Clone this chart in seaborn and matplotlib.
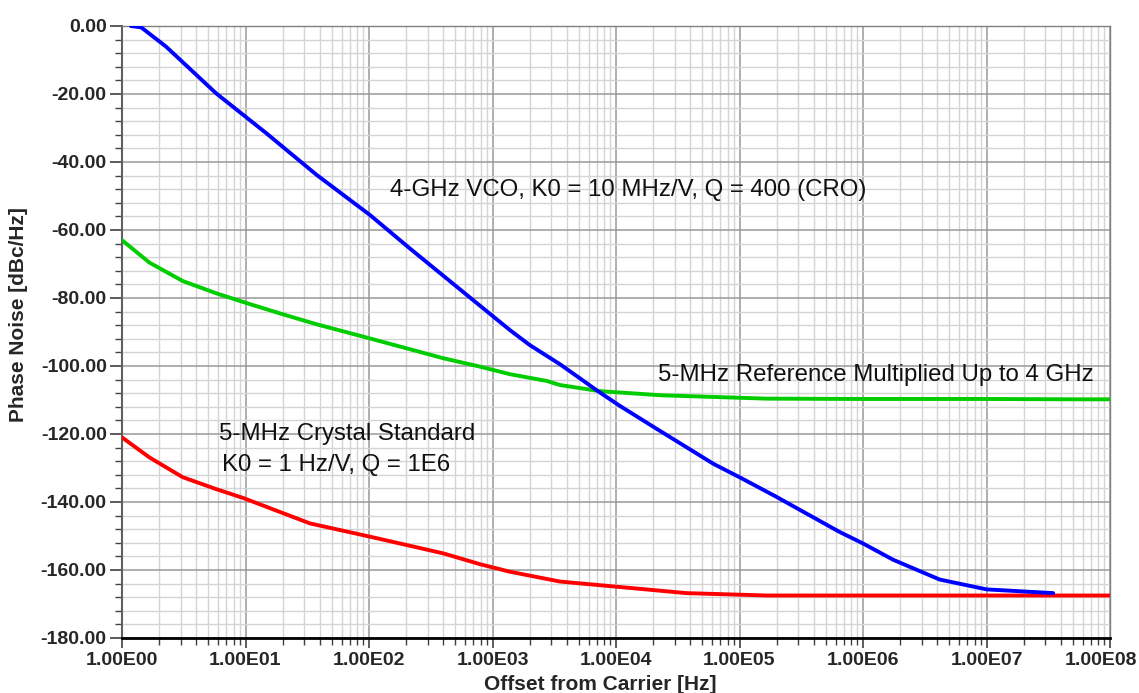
import numpy as np
import pandas as pd
import matplotlib
matplotlib.use("Agg")
import matplotlib.pyplot as plt
import matplotlib.transforms as mtransforms
from matplotlib.ticker import FixedLocator, FuncFormatter, MultipleLocator, LogLocator, NullFormatter
import seaborn as sns

# ---- data ----
vco_freq = [1.18, 1.43, 2.28, 5.78, 14.7, 37.4, 101.9, 213.8, 794, 1380, 1995, 3524, 7413,
            10715, 21380, 61660, 100000, 199500, 645700, 1000000, 1758000, 4169000,
            10000000, 34670000]
vco_pn = [0.0, -0.4, -6.1, -19.8, -31.5, -43.7, -55.6, -65.4, -82.3, -89.4, -93.8, -99.5, -107.8,
          -111.7, -118.5, -128.8, -132.7, -138.5, -148.8, -152.2, -157.0, -162.8,
          -165.7, -166.8]

ref_freq = [1.0, 1.67, 3.10, 5.78, 10.0, 20.1, 37.4, 101.9, 398, 794, 1380, 2754, 3524, 7413,
            22910, 166000, 1000000, 10000000, 57540000, 100000000]
ref_pn = [-63.0, -69.6, -75.0, -78.6, -81.4, -84.8, -87.7, -91.9, -97.7, -100.2, -102.4, -104.4,
          -105.6, -107.4, -108.6, -109.6, -109.7, -109.7, -109.8, -109.8]

xtal_freq = [1.0, 1.67, 3.10, 5.78, 9.55, 33.3, 101.9, 398, 794, 1380, 3524, 10000, 37150,
             166000, 1000000, 10000000, 100000000]
xtal_pn = [-121.0, -126.9, -132.7, -136.2, -138.8, -146.3, -150.2, -155.1, -158.3, -160.5,
           -163.4, -164.9, -166.8, -167.5, -167.5, -167.5, -167.5]

x_ticks = [1e0, 1e1, 1e2, 1e3, 1e4, 1e5, 1e6, 1e7, 1e8]
y_ticks = [0, -20, -40, -60, -80, -100, -120, -140, -160, -180]

label_vco = "4-GHz VCO, K0 = 10 MHz/V, Q = 400 (CRO)"
label_ref = "5-MHz Reference Multiplied Up to 4 GHz"
label_xtal1 = "5-MHz Crystal Standard"
label_xtal2 = "K0 = 1 Hz/V, Q = 1E6"

sns.set_theme(style="white")
plt.rcParams['font.family'] = ['Liberation Sans', 'DejaVu Sans']

fig = plt.figure(figsize=(11.39, 6.93), dpi=100)
ax = fig.add_axes([122/1139, 1 - 638/693, (1110 - 122)/1139, (638 - 26)/693])

df_vco = pd.DataFrame({"f": vco_freq, "pn": vco_pn})
df_ref = pd.DataFrame({"f": ref_freq, "pn": ref_pn})
df_xtal = pd.DataFrame({"f": xtal_freq, "pn": xtal_pn})

ax.set_xscale("log")
line_kw = dict(lw=2.8, sort=False, solid_joinstyle="round", solid_capstyle="round")
sns.lineplot(data=df_ref, x="f", y="pn", ax=ax, color="#00cc00", zorder=3, **line_kw)
sns.lineplot(data=df_xtal, x="f", y="pn", ax=ax, color="#ff0000", zorder=3, **line_kw)
sns.lineplot(data=df_vco, x="f", y="pn", ax=ax, color="#0000ff", zorder=4, **line_kw)

ax.set_xlim(1, 1e8)
ax.set_ylim(-180, 0)

ax.xaxis.set_major_locator(FixedLocator(x_ticks))
ax.xaxis.set_minor_locator(LogLocator(base=10, subs=np.arange(2, 10), numticks=100))
ax.xaxis.set_minor_formatter(NullFormatter())
ax.xaxis.set_major_formatter(FuncFormatter(lambda v, p: f"1.00E{int(round(np.log10(v))):02d}"))

ax.yaxis.set_major_locator(FixedLocator(y_ticks))
ax.yaxis.set_minor_locator(MultipleLocator(4))
ax.yaxis.set_major_formatter(FuncFormatter(lambda v, p: f"{v:.2f}"))

ax.grid(True, which="major", color="#999999", lw=1.1, zorder=1)
ax.grid(True, which="minor", color="#d4d4d4", lw=1.0, zorder=0)
ax.set_axisbelow(True)

for s in ["top", "right"]:
    ax.spines[s].set_color("#808080")
    ax.spines[s].set_linewidth(1.0)
ax.spines["left"].set_color("#606060")
ax.spines["left"].set_linewidth(1.5)
ax.spines["bottom"].set_color("#000000")
ax.spines["bottom"].set_linewidth(2.0)

ax.tick_params(axis="y", which="major", direction="out", length=9, width=1.2, color="#404040",
               left=True, labelsize=14, pad=2)
ax.tick_params(axis="y", which="minor", direction="out", length=5, width=1.0, color="#404040", left=True)
ax.tick_params(axis="x", which="major", direction="out", length=7, width=1.2, color="#404040",
               bottom=True, labelsize=14, pad=3)
ax.tick_params(axis="x", which="minor", direction="out", length=5, width=1.0, color="#404040", bottom=True)
for lab in ax.get_xticklabels() + ax.get_yticklabels():
    lab.set_fontweight("bold")

# nudge the last x tick label so it stays inside the canvas
last = ax.get_xticklabels()[-1]
last.set_transform(last.get_transform() + mtransforms.ScaledTranslation(-9/100, 0, fig.dpi_scale_trans))

ax.set_xlabel("Offset from Carrier [Hz]", fontsize=15, fontweight="bold")
ax.set_ylabel("Phase Noise [dBc/Hz]", fontsize=15, fontweight="bold")
ax.xaxis.set_label_coords(600/1139, 1 - 675/693, transform=fig.transFigure)
ax.yaxis.set_label_coords(28/1139, 1 - 315/693, transform=fig.transFigure)

txt_kw = dict(fontsize=17.3, color="#111111", va="center", ha="left", transform=fig.transFigure)
fig.text(390/1139, 1 - 190/693, label_vco, **txt_kw)
fig.text(658/1139, 1 - 375/693, label_ref, **txt_kw)
fig.text(219/1139, 1 - 434/693, label_xtal1, **txt_kw)
fig.text(222/1139, 1 - 465/693, label_xtal2, **txt_kw)

fig.savefig("out.png", dpi=100)
